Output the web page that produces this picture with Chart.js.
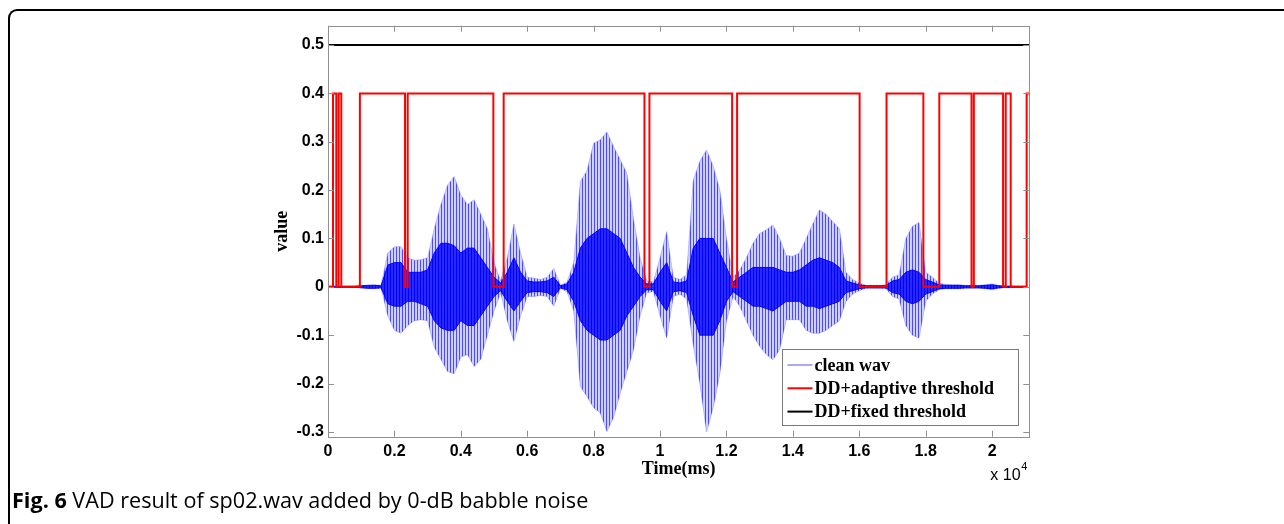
<!DOCTYPE html>
<html>
<head>
<meta charset="utf-8">
<script src="https://cdn.jsdelivr.net/npm/chart.js@4.4.1/dist/chart.umd.min.js"></script>
<style>
  body { margin: 0; background: #fff; }
  #wrap { position: relative; width: 1284px; height: 524px; overflow: hidden; }
  #frame { position: absolute; left: 8px; top: 9px; width: 1400px; height: 700px;
           border-left: 2px solid #000; border-top: 2px solid #000; border-top-left-radius: 9px; }
  #caption { position: absolute; left: 12px; top: 485px; font: 21.6px "Open Sans"; color: #000; white-space: nowrap; }
  #chart { position: absolute; left: 0; top: 0; }
</style>
</head>
<body>
<div id="wrap">
  <div id="frame"></div>
  <canvas id="chart" width="1284" height="524"></canvas>
  <div id="caption"><b>Fig. 6</b> VAD result of sp02.wav added by 0-dB babble noise</div>
</div>
<script>
// time axis of the waveform envelope (x 10^4 ms)
const waveTime = [
  0, 0.02, 0.04, 0.06, 0.08, 0.10, 0.12, 0.14, 0.16, 0.18,
  0.20, 0.22, 0.24, 0.26, 0.28, 0.30, 0.32, 0.34, 0.36, 0.38,
  0.40, 0.42, 0.44, 0.46, 0.48, 0.50, 0.52, 0.54, 0.56, 0.58,
  0.60, 0.62, 0.64, 0.66, 0.68, 0.70, 0.72, 0.74, 0.76, 0.78,
  0.80, 0.82, 0.84, 0.86, 0.88, 0.90, 0.92, 0.94, 0.96, 0.98,
  1.00, 1.02, 1.04, 1.06, 1.08, 1.10, 1.12, 1.14, 1.16, 1.18,
  1.20, 1.22, 1.24, 1.26, 1.28, 1.30, 1.32, 1.34, 1.36, 1.38,
  1.40, 1.42, 1.44, 1.46, 1.48, 1.50, 1.52, 1.54, 1.56, 1.58,
  1.60, 1.62, 1.64, 1.66, 1.68, 1.70, 1.72, 1.74, 1.76, 1.78,
  1.80, 1.82, 1.84, 1.86, 1.88, 1.90, 1.92, 1.94, 1.96, 1.98,
  2.00, 2.02, 2.04, 2.06, 2.08, 2.10
];

// clean wav: outer peaks (light) and dense core (dark)
const peakUpper = [
  0.001, 0.001, 0.001, 0.001, 0.001, 0.002, 0.003, 0.004, 0.003, 0.07,
  0.083, 0.083, 0.06, 0.055, 0.056, 0.06, 0.12, 0.17, 0.21, 0.228,
  0.19, 0.17, 0.18, 0.15, 0.12, 0.05, 0.012, 0.06, 0.13, 0.07,
  0.02, 0.018, 0.015, 0.02, 0.038, 0.003, 0.01, 0.05, 0.218, 0.24,
  0.297, 0.304, 0.32, 0.29, 0.263, 0.235, 0.14, 0.06, 0.012, 0.01,
  0.06, 0.114, 0.02, 0.015, 0.025, 0.22, 0.26, 0.283, 0.25, 0.2,
  0.1, 0.02, 0.035, 0.06, 0.09, 0.11, 0.118, 0.128, 0.1, 0.065,
  0.063, 0.07, 0.1, 0.13, 0.159, 0.15, 0.135, 0.12, 0.03, 0.015,
  0.008, 0.003, 0.003, 0.003, 0.004, 0.02, 0.025, 0.1, 0.125, 0.133,
  0.03, 0.02, 0.008, 0.005, 0.004, 0.004, 0.003, 0.003, 0.003, 0.004,
  0.006, 0.003, 0.002, 0.002, 0.001, 0.001
];
const peakLower = [
  -0.001, -0.001, -0.001, -0.001, -0.001, -0.002, -0.003, -0.004, -0.003, -0.06,
  -0.09, -0.096, -0.08, -0.07, -0.068, -0.07, -0.125, -0.15, -0.175, -0.18,
  -0.145, -0.14, -0.165, -0.15, -0.1, -0.05, -0.012, -0.07, -0.113, -0.06,
  -0.02, -0.02, -0.018, -0.02, -0.04, -0.003, -0.01, -0.05, -0.206, -0.227,
  -0.25, -0.261, -0.299, -0.27, -0.22, -0.175, -0.13, -0.06, -0.012, -0.01,
  -0.06, -0.106, -0.02, -0.015, -0.025, -0.12, -0.2, -0.3, -0.25, -0.18,
  -0.07, -0.02, -0.04, -0.07, -0.1, -0.123, -0.14, -0.151, -0.13, -0.068,
  -0.068, -0.068, -0.09, -0.096, -0.096, -0.09, -0.08, -0.07, -0.03, -0.015,
  -0.008, -0.003, -0.003, -0.003, -0.004, -0.02, -0.025, -0.08, -0.1, -0.106,
  -0.03, -0.015, -0.006, -0.004, -0.004, -0.004, -0.003, -0.003, -0.003, -0.004,
  -0.006, -0.003, -0.002, -0.002, -0.001, -0.001
];
const coreUpper = [
  0.001, 0.001, 0.001, 0.001, 0.001, 0.002, 0.003, 0.003, 0.002, 0.045,
  0.05, 0.05, 0.03, 0.03, 0.03, 0.035, 0.07, 0.09, 0.09, 0.085,
  0.07, 0.08, 0.08, 0.06, 0.04, 0.02, 0.008, 0.03, 0.06, 0.03,
  0.012, 0.01, 0.01, 0.012, 0.02, 0.002, 0.006, 0.03, 0.08, 0.1,
  0.11, 0.12, 0.12, 0.11, 0.1, 0.07, 0.04, 0.02, 0.006, 0.006,
  0.03, 0.05, 0.01, 0.008, 0.012, 0.08, 0.1, 0.1, 0.1, 0.07,
  0.04, 0.01, 0.02, 0.03, 0.04, 0.04, 0.04, 0.04, 0.035, 0.03,
  0.03, 0.035, 0.045, 0.055, 0.06, 0.055, 0.05, 0.04, 0.012, 0.008,
  0.004, 0.002, 0.002, 0.002, 0.002, 0.012, 0.015, 0.03, 0.035, 0.03,
  0.015, 0.01, 0.004, 0.003, 0.003, 0.003, 0.002, 0.002, 0.002, 0.003,
  0.004, 0.002, 0.001, 0.001, 0.001, 0.001
];
const coreLower = [
  -0.001, -0.001, -0.001, -0.001, -0.001, -0.002, -0.003, -0.003, -0.002, -0.035,
  -0.04, -0.04, -0.03, -0.03, -0.035, -0.04, -0.07, -0.085, -0.09, -0.09,
  -0.07, -0.08, -0.08, -0.06, -0.04, -0.02, -0.008, -0.03, -0.05, -0.03,
  -0.012, -0.01, -0.01, -0.012, -0.02, -0.002, -0.006, -0.03, -0.07, -0.09,
  -0.1, -0.11, -0.11, -0.1, -0.09, -0.06, -0.04, -0.02, -0.006, -0.006,
  -0.03, -0.05, -0.01, -0.008, -0.012, -0.06, -0.1, -0.1, -0.1, -0.07,
  -0.03, -0.01, -0.02, -0.03, -0.04, -0.04, -0.045, -0.05, -0.04, -0.03,
  -0.03, -0.03, -0.04, -0.04, -0.045, -0.04, -0.035, -0.03, -0.012, -0.008,
  -0.004, -0.002, -0.002, -0.002, -0.002, -0.012, -0.015, -0.03, -0.035, -0.03,
  -0.015, -0.01, -0.004, -0.003, -0.003, -0.003, -0.002, -0.002, -0.002, -0.003,
  -0.004, -0.002, -0.001, -0.001, -0.001, -0.001
];

// DD + adaptive threshold decision (each value holds from its time onward)
const adaptiveTime = [0, 0.015, 0.025, 0.032, 0.040, 0.096, 0.232, 0.240, 0.498, 0.529,
  0.953, 0.968, 1.217, 1.232, 1.601, 1.682, 1.793, 1.841, 1.938, 1.945,
  2.033, 2.041, 2.056, 2.104, 2.112];
const adaptiveValue = [0, 0.4, 0, 0.4, 0, 0.4, 0, 0.4, 0, 0.4,
  0, 0.4, 0, 0.4, 0, 0.4, 0, 0.4, 0, 0.4,
  0, 0.4, 0, 0.4, 0.4];

// DD + fixed threshold decision
const fixedTime = [0, 2.112];
const fixedValue = [0.5, 0.5];

const xTicks = [0, 0.2, 0.4, 0.6, 0.8, 1, 1.2, 1.4, 1.6, 1.8, 2];
const xTickLabels = ["0", "0.2", "0.4", "0.6", "0.8", "1", "1.2", "1.4", "1.6", "1.8", "2"];
const yTicks = [-0.3, -0.2, -0.1, 0, 0.1, 0.2, 0.3, 0.4, 0.5];
const yTickLabels = ["-0.3", "-0.2", "-0.1", "0", "0.1", "0.2", "0.3", "0.4", "0.5"];

const legendItems = [
  { text: "clean wav", color: "#8c8cff" },
  { text: "DD+adaptive threshold", color: "#ff0000" },
  { text: "DD+fixed threshold", color: "#000000" }
];

const pts = (xs, ys) => xs.map((x, i) => ({ x, y: ys[i] }));

// vertical-stripe texture so the envelope reads like a dense waveform
function stripes(dark, light) {
  const c = document.createElement("canvas");
  c.width = 3; c.height = 4;
  const g = c.getContext("2d");
  g.fillStyle = light; g.fillRect(0, 0, 3, 4);
  g.fillStyle = dark; g.fillRect(0, 0, 1, 4);
  return g.createPattern(c, "repeat");
}

// axes box, inward ticks, legend and the x10^4 multiplier
const matlabAxes = {
  id: "matlabAxes",
  afterDatasetsDraw(chart) {
    const { ctx, chartArea: a, scales: { x, y } } = chart;
    ctx.save();
    ctx.strokeStyle = "#8f8f8f";
    ctx.lineWidth = 1;
    ctx.strokeRect(Math.round(a.left) + 0.5, Math.round(a.top) + 0.5,
      Math.round(a.right - a.left), Math.round(a.bottom - a.top));
    ctx.beginPath();
    xTicks.forEach((v) => {
      const px = Math.round(x.getPixelForValue(v)) + 0.5;
      ctx.moveTo(px, a.bottom); ctx.lineTo(px, a.bottom - 6);
      ctx.moveTo(px, a.top); ctx.lineTo(px, a.top + 6);
    });
    yTicks.forEach((v) => {
      const py = Math.round(y.getPixelForValue(v)) + 0.5;
      ctx.moveTo(a.left, py); ctx.lineTo(a.left + 6, py);
      ctx.moveTo(a.right, py); ctx.lineTo(a.right - 6, py);
    });
    ctx.stroke();

    // legend box, bottom right inside the axes
    const w = 236, h = 76;
    const lx = Math.round(a.right - 11 - w) + 0.5;
    const ly = Math.round(a.bottom - 11.5 - h) + 0.5;
    ctx.fillStyle = "#fff";
    ctx.fillRect(lx, ly, w, h);
    ctx.strokeStyle = "#7a7a7a";
    ctx.strokeRect(lx, ly, w, h);
    ctx.font = 'bold 18px "Liberation Serif"';
    ctx.textBaseline = "middle";
    legendItems.forEach((it, i) => {
      const cy = ly + 15.5 + i * 23.3;
      ctx.strokeStyle = it.color;
      ctx.lineWidth = it.color === "#8c8cff" ? 1.5 : 2;
      ctx.beginPath();
      ctx.moveTo(lx + 5, cy); ctx.lineTo(lx + 30, cy);
      ctx.stroke();
      ctx.fillStyle = "#000";
      ctx.fillText(it.text, lx + 32, cy + 1);
    });

    // exponent label
    ctx.fillStyle = "#000";
    ctx.textBaseline = "alphabetic";
    ctx.font = '16px "Liberation Sans"';
    ctx.fillText("x 10", a.right - 39, a.bottom + 43);
    ctx.font = '11px "Liberation Sans"';
    ctx.fillText("4", a.right - 8, a.bottom + 33);
    ctx.restore();
  }
};

new Chart(document.getElementById("chart"), {
  type: "line",
  data: {
    datasets: [
      { label: "clean wav", data: pts(waveTime, peakUpper), borderColor: "#8c8cff", borderWidth: 0.5,
        backgroundColor: stripes("rgba(30,30,255,0.75)", "rgba(120,120,255,0.35)"),
        fill: "+1", pointRadius: 0, tension: 0, order: 3 },
      { label: "clean wav low", data: pts(waveTime, peakLower), borderColor: "#8c8cff", borderWidth: 0.5,
        pointRadius: 0, fill: false, tension: 0, order: 3 },
      { label: "clean wav core", data: pts(waveTime, coreUpper), borderColor: "#0000ff", borderWidth: 1,
        backgroundColor: stripes("rgba(0,0,255,1)", "rgba(0,0,255,0.8)"),
        fill: "+1", pointRadius: 0, tension: 0, order: 2 },
      { label: "clean wav core low", data: pts(waveTime, coreLower), borderColor: "#0000ff", borderWidth: 1,
        pointRadius: 0, fill: false, tension: 0, order: 2 },
      { label: "DD+adaptive threshold", data: pts(adaptiveTime, adaptiveValue), borderColor: "#ff0000",
        borderWidth: 2, pointRadius: 0, fill: false, stepped: "before", order: 1 },
      { label: "DD+fixed threshold", data: pts(fixedTime, fixedValue), borderColor: "#000000",
        borderWidth: 2, pointRadius: 0, fill: false, order: 0 }
    ]
  },
  options: {
    responsive: false,
    animation: false,
    layout: { padding: { left: 268, right: 254.7, top: 25.7, bottom: 42.3 } },
    plugins: { legend: { display: false }, tooltip: { enabled: false } },
    scales: {
      x: {
        type: "linear", min: 0, max: 2.112,
        grid: { display: false, drawTicks: false }, border: { display: false },
        afterBuildTicks: (s) => { s.ticks = xTicks.map((v) => ({ value: v })); },
        afterFit: (s) => { s.height = 45; },
        ticks: { color: "#000", padding: 5, maxRotation: 0, autoSkip: false,
          font: { family: "Liberation Sans", size: 16, weight: "bold" },
          callback: (v) => xTickLabels[xTicks.indexOf(v)] },
        title: { display: true, text: "Time(ms)", color: "#000", padding: { top: 0, bottom: 2 },
          font: { family: "Liberation Serif", size: 18, weight: "bold" } }
      },
      y: {
        min: -0.31, max: 0.54,
        grid: { display: false, drawTicks: false }, border: { display: false },
        afterBuildTicks: (s) => { s.ticks = yTicks.map((v) => ({ value: v })); },
        afterFit: (s) => { s.width = 60; },
        ticks: { color: "#000", padding: 4, autoSkip: false,
          font: { family: "Liberation Sans", size: 16, weight: "bold" },
          callback: (v) => yTickLabels[yTicks.indexOf(v)] },
        title: { display: true, text: "value", color: "#000", padding: { top: 4, bottom: 0 },
          font: { family: "Liberation Serif", size: 18, weight: "bold" } }
      }
    }
  },
  plugins: [matlabAxes]
});
</script>
</body>
</html>
